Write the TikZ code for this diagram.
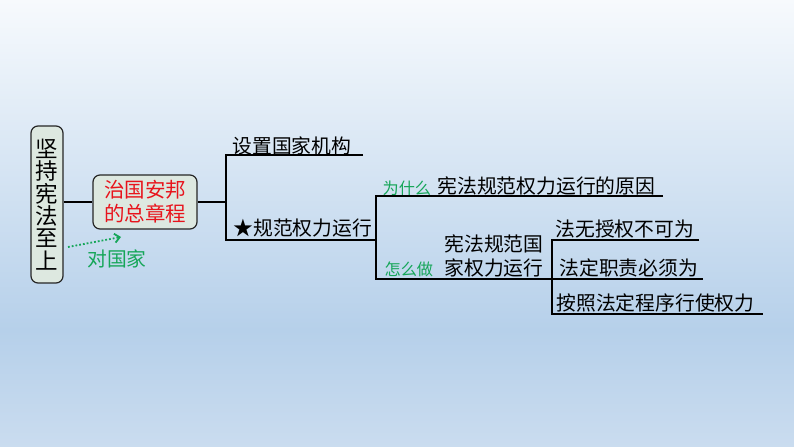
\documentclass[tikz,border=0pt]{standalone}
\usepackage{fontspec}
\usepackage{xcolor}
\usepackage{tikz}
\usetikzlibrary{arrows.meta,positioning}
\newfontfamily\cjk{Noto Sans CJK SC}
\definecolor{bgtop}{HTML}{F7FAFD}
\definecolor{bgmid}{HTML}{B6D0EA}
\definecolor{bgbot}{HTML}{CADCEF}
\definecolor{boxfill}{HTML}{DDE8E0}
\definecolor{hotred}{HTML}{E8141C}
\definecolor{leafgreen}{HTML}{16A659}

\begin{document}
\begin{tikzpicture}[x=1bp, y=-1bp, line width=1.1bp,
  every node/.style={font=\cjk\fontsize{19.8bp}{23.5bp}\selectfont, inner sep=0pt},
  box/.style={draw=black!85, line width=1.2bp, fill=boxfill, rounded corners=7bp, align=center},
  leaf/.style={anchor=west},
  ask/.style={anchor=west, text=leafgreen, font=\cjk\fontsize{16.2bp}{18bp}\selectfont}]
% background
\shade[top color=bgtop, bottom color=bgmid] (0,0) rectangle (794,330);
\shade[top color=bgmid, bottom color=bgbot] (0,330) rectangle (794,447);
\useasboundingbox (0,0) rectangle (794,447);

% boxes
\node[box, minimum width=32bp, minimum height=157bp, font=\cjk\fontsize{22.5bp}{22.4bp}\selectfont] (main) at (47,204.5) {坚\\持\\宪\\法\\至\\上};
\node[box, minimum width=104bp, minimum height=54bp, text=hotred, font=\cjk\fontsize{20.5bp}{24bp}\selectfont] (charter) at (145,202) {治国安邦\\的总章程};
\node[text=leafgreen] (nation) at (117,259) {对国家};
\coordinate (gs) at (68,247);
\coordinate (ge) at (121,237);
\draw[leafgreen, dotted, line width=1.8bp, -{Straight Barb[length=5bp,width=9bp]}] (gs) -- (ge);

% fork points and line ends
\coordinate (f1top) at (226,155);
\coordinate (f1bot) at (226,240);
\coordinate (e1) at (363,155);
\coordinate (f2top) at (376,196);
\coordinate (f2bot) at (376,279);
\coordinate (e2) at (663,196);
\coordinate (f3top) at (552,240);
\coordinate (f3bot) at (552,314);
\coordinate (e3) at (699,240);
\coordinate (e4) at (703,279);
\coordinate (e5) at (763,314);

% texts
\node[leaf] (setup) at (232,145.5) {设置国家机构};
\node[leaf] (power) at (233,228.5) {★规范权力运行};
\node[ask] (why) at (382,188) {为什么};
\node[leaf] (reason) at (437,185.5) {宪法规范权力运行的原因};
\node[ask] (how) at (384,269) {怎么做};
\node[leaf, align=left] (rule) at (444,256) {宪法规范国\\家权力运行};
\node[leaf] (nolaw) at (555,229) {法无授权不可为};
\node[leaf] (duty) at (559,268) {法定职责必须为};
\node[leaf] (proc) at (556,303) {按照法定程序行使权力};

% connectors
\draw (main.east |- charter.west) -- (charter.west);
\draw (charter.east) -- (charter.east -| f1top);
\draw (e1) -- (f1top) -- (f1bot) -- (f1bot -| f2top);
\draw (e2) -- (f2top) -- (f2bot) -- (e4);
\draw (e3) -- (f3top) -- (f3bot) -- (e5);
\end{tikzpicture}
\end{document}
